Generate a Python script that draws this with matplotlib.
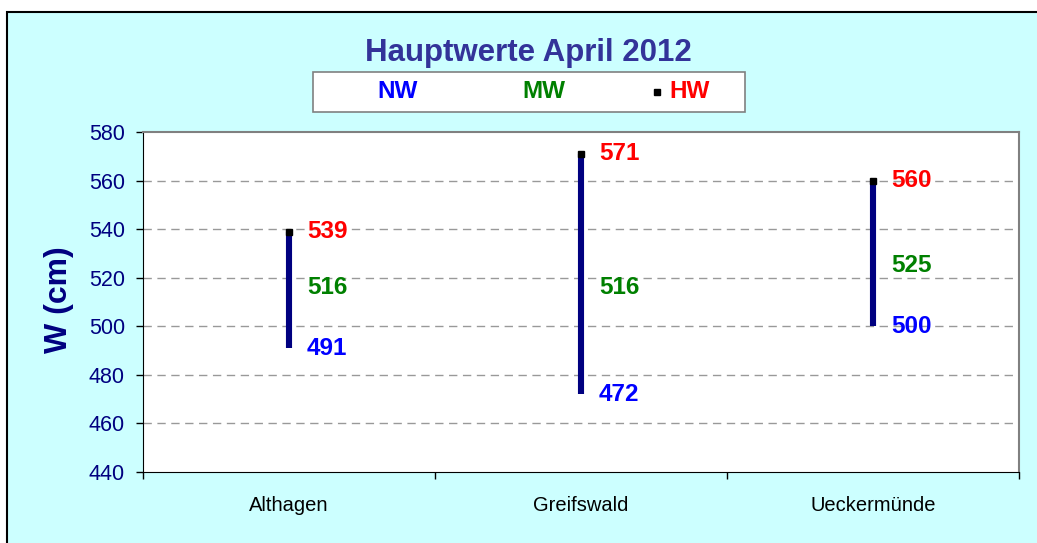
import matplotlib
matplotlib.use("Agg")
import matplotlib.pyplot as plt
from matplotlib.patches import Rectangle

plt.rcParams['font.family'] = ['Liberation Sans', 'DejaVu Sans']

stations = ['Althagen', 'Greifswald', 'Ueckermünde']
nw = [491, 472, 500]
mw = [516, 516, 525]
hw = [539, 571, 560]
yticks = [440, 460, 480, 500, 520, 540, 560, 580]
title = 'Hauptwerte April 2012'
ylabel = 'W (cm)'
legend_labels = ['NW', 'MW', 'HW']

W, H = 1037, 543
fig = plt.figure(figsize=(W / 100, H / 100), dpi=100, facecolor='white')

# chart background frame
fig.patches.append(Rectangle((7 / W, -0.05), 1.5, 1 - 12 / H + 0.05,
                             transform=fig.transFigure, facecolor='#CCFFFF',
                             edgecolor='black', linewidth=1.5, zorder=-5))

ax = fig.add_axes([143 / W, 1 - 472 / H, (1019 - 143) / W, (472 - 132) / H])
ax.set_zorder(1)
ax.set_facecolor('white')

x = list(range(len(stations)))
ax.vlines(x, nw, hw, color='#000080', linewidth=4.4, zorder=3)
ax.plot(x, hw, linestyle='none', marker='s', color='black', markersize=5, zorder=4)

for xi, n, m, h in zip(x, nw, mw, hw):
    for val, col in ((h, '#FF0000'), (m, '#008000'), (n, '#0000FF')):
        ax.annotate(str(val), (xi, val), xytext=(13, 0), textcoords='offset points',
                    ha='left', va='center', color=col, fontsize=17.5, fontweight='bold',
                    zorder=5)

ax.set_xlim(-0.5, len(stations) - 0.5)
ax.set_ylim(440, 580)
ax.set_yticks(yticks)
ax.set_yticklabels([str(v) for v in yticks])
ax.set_xticks([i - 0.5 for i in range(len(stations) + 1)])
ax.set_xticklabels([])
ax.set_xticks(x, minor=True)
ax.set_xticklabels(stations, minor=True)
ax.tick_params(axis='x', which='minor', length=0, pad=17, labelsize=14.5, labelcolor='black')
ax.tick_params(axis='x', which='major', length=5, width=1, direction='out', color='black')
ax.tick_params(axis='y', length=5, width=1, direction='out', pad=8, labelsize=15.5,
               labelcolor='#000080', color='black')

for yv in yticks[1:-1]:
    ax.axhline(yv, color='#999999', linewidth=1, linestyle=(0, (6, 4)), zorder=1)

ax.spines['left'].set_color('black')
ax.spines['bottom'].set_color('black')
ax.spines['top'].set_color('#808080')
ax.spines['right'].set_color('#808080')
ax.spines['top'].set_linewidth(1.5)
ax.spines['right'].set_linewidth(1.5)

fig.text(528 / W, 1 - 61 / H, title, ha='center', va='baseline', fontsize=22.5,
         fontweight='bold', color='#333399')
fig.text(59 / W, 1 - 300 / H, ylabel, ha='center', va='center', rotation=90,
         fontsize=23, fontweight='bold', color='#000080')

# legend box
fig.patches.append(Rectangle((313 / W, 1 - 112 / H), 432 / W, 40 / H,
                             transform=fig.transFigure, facecolor='white',
                             edgecolor='#808080', linewidth=1.2, zorder=2))
ly = 1 - 92 / H
fig.text(398 / W, ly, legend_labels[0], ha='center', va='center', fontsize=17.5,
         fontweight='bold', color='#0000FF', zorder=4)
fig.text(544 / W, ly, legend_labels[1], ha='center', va='center', fontsize=17.5,
         fontweight='bold', color='#008000', zorder=4)
fig.text(690 / W, ly, legend_labels[2], ha='center', va='center', fontsize=17.5,
         fontweight='bold', color='#FF0000', zorder=4)
fig.lines.append(plt.Line2D([657 / W], [ly], transform=fig.transFigure, marker='s',
                            color='black', markersize=4.5, linestyle='none', zorder=4))

fig.savefig('out.png', dpi=100, facecolor='white')
